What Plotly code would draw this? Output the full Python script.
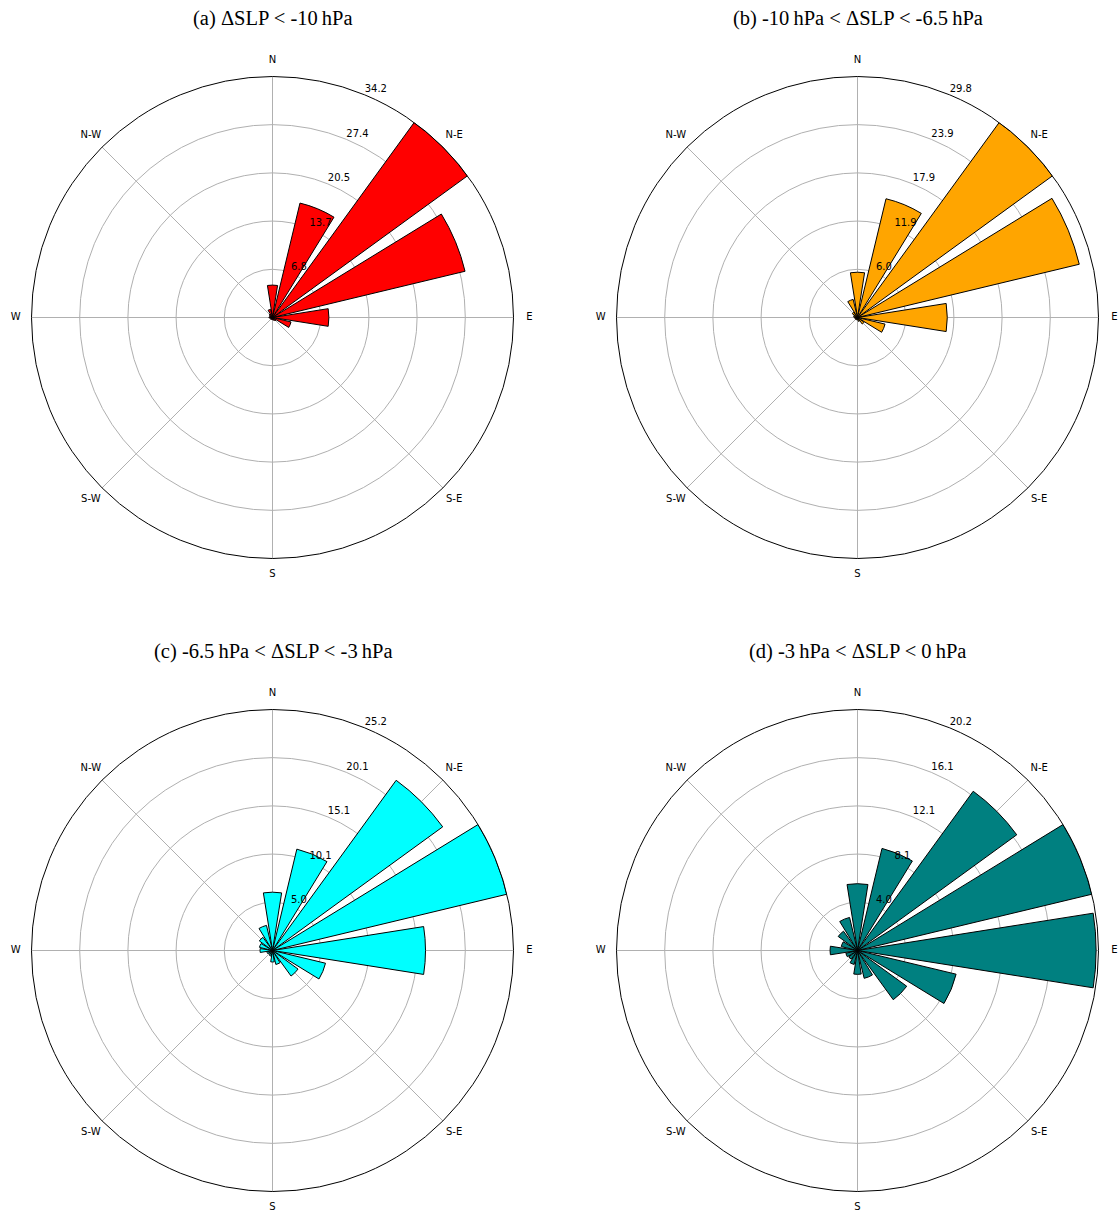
import plotly.graph_objects as go

# 16 compass directions (degrees, clockwise from North)
directions = [0, 22.5, 45, 67.5, 90, 112.5, 135, 157.5, 180, 202.5, 225, 247.5, 270, 292.5, 315, 337.5]

# Frequencies (%) per direction for each ΔSLP class
freq_a = [4.6, 16.7, 34.2, 28.1, 8.0, 2.7, 0.6, 0.4, 0.3, 0.3, 0.3, 0.3, 0.5, 0.4, 0.6, 1.2]
freq_b = [5.6, 15.1, 29.8, 28.2, 11.1, 3.5, 1.0, 0.5, 0.3, 0.3, 0.3, 0.3, 0.4, 0.5, 0.8, 2.3]
freq_c = [6.1, 10.9, 22.0, 25.2, 16.0, 5.7, 3.3, 1.5, 1.2, 0.6, 0.5, 0.6, 1.3, 1.4, 1.7, 2.7]
freq_d = [5.6, 8.8, 16.5, 20.2, 20.0, 8.5, 5.1, 2.4, 2.0, 1.2, 0.9, 1.0, 2.3, 1.4, 2.0, 2.85]

rmax = [34.2, 29.8, 25.2, 20.2]
radial_ticks = [
    ["6.8", "13.7", "20.5", "27.4", "34.2"],
    ["6.0", "11.9", "17.9", "23.9", "29.8"],
    ["5.0", "10.1", "15.1", "20.1", "25.2"],
    ["4.0", "8.1", "12.1", "16.1", "20.2"],
]
radial_label_angle = 22.5
titles = [
    "(a) \u0394SLP < -10\u2009hPa",
    "(b) -10\u2009hPa < \u0394SLP < -6.5\u2009hPa",
    "(c) -6.5\u2009hPa < \u0394SLP < -3\u2009hPa",
    "(d) -3\u2009hPa < \u0394SLP < 0\u2009hPa",
]
colors = ["red", "orange", "cyan", "#008080"]
compass_vals = [0, 45, 90, 135, 180, 225, 270, 315]
compass_text = ["N", "N-E", "E", "S-E", "S", "S-W", "W", "N-W"]
compass_label_radius = 1.066  # fraction of the outer circle
label_frame = 1.08            # outer frame (fraction) of the label overlay

W, H = 1120, 1214
R = 241
centers = [(272.5, 317.5), (857.5, 317.5), (272.5, 950.5), (857.5, 950.5)]

fig = go.Figure()
series = [freq_a, freq_b, freq_c, freq_d]
layout = {}
for i, (vals, (cx, cy)) in enumerate(zip(series, centers)):
    name = f"polar{2 * i + 1}" if i else "polar"
    lab = f"polar{2 * i + 2}"
    step = rmax[i] / 5
    tvals = [step * k for k in range(1, 6)]
    fig.add_trace(go.Barpolar(
        r=vals, theta=directions, width=[18] * len(directions),
        marker=dict(color=colors[i], line=dict(color="black", width=1)),
        subplot=name, showlegend=False, hoverinfo="r+theta",
    ))
    fig.add_trace(go.Scatterpolar(
        r=tvals, theta=[radial_label_angle] * len(tvals),
        mode="text", text=radial_ticks[i], textposition="top right",
        textfont=dict(family="DejaVu Sans", size=10, color="black"),
        cliponaxis=False, subplot=name, showlegend=False, hoverinfo="skip",
    ))
    # compass labels on a transparent overlay with a slightly larger frame
    fig.add_trace(go.Scatterpolar(
        r=[rmax[i] * compass_label_radius] * len(compass_vals), theta=compass_vals,
        mode="text", text=compass_text, textposition="middle center",
        textfont=dict(family="DejaVu Sans", size=10, color="black"),
        cliponaxis=False, subplot=lab, showlegend=False, hoverinfo="skip",
    ))
    layout[name] = dict(
        domain=dict(x=[(cx - R) / W, (cx + R) / W],
                    y=[1 - (cy + R) / H, 1 - (cy - R) / H]),
        bgcolor="white",
        angularaxis=dict(
            direction="clockwise", rotation=90,
            tickmode="array", tickvals=compass_vals, ticktext=compass_text,
            showticklabels=False, ticks="",
            showline=True, linecolor="black", linewidth=1,
            showgrid=True, gridcolor="#b0b0b0", gridwidth=1,
        ),
        radialaxis=dict(
            range=[0, rmax[i]],
            tickmode="array", tickvals=tvals, ticktext=radial_ticks[i],
            showticklabels=False,
            angle=67.5,
            showline=False, ticks="",
            showgrid=True, gridcolor="#b0b0b0", gridwidth=1,
        ),
    )
    R2 = R * label_frame
    layout[lab] = dict(
        domain=dict(x=[(cx - R2) / W, (cx + R2) / W],
                    y=[1 - (cy + R2) / H, 1 - (cy - R2) / H]),
        bgcolor="rgba(0,0,0,0)",
        angularaxis=dict(direction="clockwise", rotation=90, visible=False,
                         showgrid=False, showline=False, showticklabels=False, ticks=""),
        radialaxis=dict(range=[0, rmax[i] * label_frame], visible=False,
                        showgrid=False, showline=False, showticklabels=False, ticks=""),
    )

annotations = []
for t, (cx, cy) in zip(titles, centers):
    annotations.append(dict(
        text=t, x=cx / W, y=1 - (cy - 299) / H, xref="paper", yref="paper",
        xanchor="center", yanchor="middle", showarrow=False,
        font=dict(family="Liberation Serif", size=20.5, color="black"),
    ))

fig.update_layout(
    width=W, height=H, margin=dict(l=0, r=0, t=0, b=0),
    paper_bgcolor="white", plot_bgcolor="white",
    annotations=annotations, **layout,
)
fig.write_html(
    "out.html",
    config={"displayModeBar": False},
    post_script="document.body.style.margin='0';document.body.style.overflow='hidden';",
)
